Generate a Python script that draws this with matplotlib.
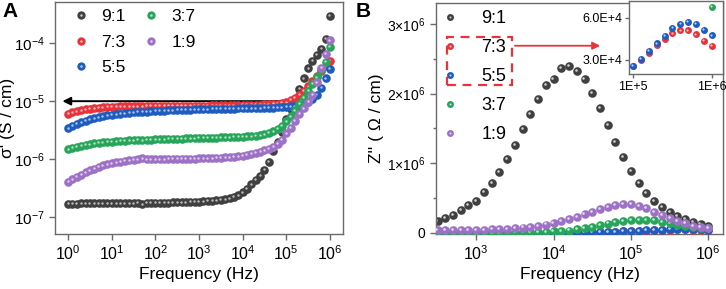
import numpy as np
import matplotlib
matplotlib.use('Agg')
import matplotlib.pyplot as plt
from matplotlib.lines import Line2D
from matplotlib.legend_handler import HandlerTuple
from matplotlib import transforms
from matplotlib.patches import Rectangle
from matplotlib.ticker import FixedLocator, FuncFormatter, NullLocator, MultipleLocator

plt.rcParams['font.family'] = ['Liberation Sans', 'DejaVu Sans']
plt.rcParams['mathtext.fontset'] = 'custom'
plt.rcParams['mathtext.rm'] = 'Liberation Sans'
plt.rcParams['mathtext.it'] = 'Liberation Sans:italic'
plt.rcParams['mathtext.bf'] = 'Liberation Sans:bold'

# ---------------- data ----------------
labels = ['9:1', '7:3', '5:5', '3:7', '1:9']
colors = ['#404040', '#e8333a', '#1f5cc0', '#27a55a', '#9d72c6']

# Panel A: conductivity, frequency exponents 0.0 ... 6.0 (10 points / decade)
freq_a_exp = np.round(np.arange(0, 61) * 0.1, 1)
sigma_91 = [1.72, 1.72, 1.72, 1.73, 1.73, 1.73, 1.73, 1.74, 1.74, 1.74,
            1.74, 1.74, 1.75, 1.75, 1.75, 1.75, 1.76, 1.68, 1.77, 1.77,
            1.78, 1.78, 1.79, 1.79, 1.80, 1.81, 1.81, 1.82, 1.83, 1.84,
            1.86, 1.88, 1.90, 1.93, 1.96, 2.00, 2.05, 2.12, 2.25, 2.40,
            2.70, 3.10, 3.70, 4.40, 5.20, 6.50, 9.00, 14.0, 20.0, 30.0,
            50, 72, 110, 165, 250, 370, 500, 630, 800, 1200, 3000]  # x1e-7
sigma_73 = [6.0, 6.4, 6.75, 7.0, 7.25, 7.45, 7.6, 7.75, 7.85, 7.95,
            8.0, 8.05, 8.1, 8.15, 8.18, 8.2, 8.22, 8.2, 8.25, 8.27,
            8.3, 8.3, 8.32, 8.33, 8.35, 8.35, 8.36, 8.37, 8.38, 8.39,
            8.4, 8.41, 8.42, 8.43, 8.45, 8.46, 8.48, 8.5, 8.53, 8.56,
            8.6, 8.63, 8.66, 8.7, 8.75, 8.8, 8.9, 9.0, 9.1, 9.3,
            9.5, 10.5, 11.5, 13, 15, 18, 22, 27, 33, 41, 50]  # x1e-6
sigma_55 = [3.4, 3.75, 4.05, 4.35, 4.6, 4.85, 5.1, 5.3, 5.5, 5.7,
            5.85, 5.95, 6.1, 6.2, 6.3, 6.45, 6.52, 6.5, 6.62, 6.7,
            6.8, 6.85, 6.9, 6.95, 7.0, 7.05, 7.08, 7.12, 7.15, 7.2,
            7.25, 7.27, 7.3, 7.32, 7.35, 7.4, 7.42, 7.44, 7.46, 7.48,
            7.5, 7.52, 7.54, 7.56, 7.6, 7.65, 7.7, 7.75, 7.82, 7.9,
            8.0, 8.1, 8.2, 8.4, 8.8, 9.5, 10.8, 13, 17, 25, 36]  # x1e-6
sigma_37 = [1.48, 1.56, 1.63, 1.70, 1.76, 1.82, 1.87, 1.91, 1.95, 1.98,
            2.01, 2.04, 2.06, 2.08, 2.10, 2.12, 2.14, 2.13, 2.16, 2.18,
            2.20, 2.21, 2.22, 2.23, 2.24, 2.26, 2.27, 2.28, 2.29, 2.30,
            2.32, 2.33, 2.34, 2.35, 2.36, 2.38, 2.39, 2.40, 2.42, 2.43,
            2.45, 2.47, 2.50, 2.55, 2.60, 2.70, 2.85, 3.05, 3.35, 3.80,
            4.5, 5.5, 7.0, 9.0, 11.5, 15, 20, 26, 34, 48, 86]  # x1e-6
sigma_19 = [0.41, 0.45, 0.495, 0.54, 0.59, 0.64, 0.69, 0.74, 0.78, 0.82,
            0.855, 0.885, 0.91, 0.935, 0.96, 0.98, 1.0, 1.03, 0.99, 0.99,
            0.995, 1.0, 1.0, 1.005, 1.01, 1.01, 1.015, 1.02, 1.02, 1.025,
            1.03, 1.035, 1.04, 1.045, 1.05, 1.06, 1.07, 1.08, 1.10, 1.12,
            1.15, 1.19, 1.23, 1.28, 1.34, 1.42, 1.52, 1.65, 1.85, 2.15,
            2.8, 3.5, 4.6, 6.0, 7.5, 9.8, 13, 21, 38, 66, 113]  # x1e-6

# Panel B: Z'', frequency exponents 2.5 ... 6.0 (10 points / decade)
freq_b_exp = np.round(2.5 + np.arange(0, 36) * 0.1, 1)
z_91 = [0.172, 0.22, 0.263, 0.325, 0.397, 0.464, 0.593, 0.713, 0.88, 1.057,
        1.263, 1.487, 1.707, 1.927, 2.119, 2.214, 2.372, 2.391, 2.324, 2.205,
        2.013, 1.793, 1.545, 1.306, 1.086, 0.89, 0.722, 0.578, 0.459, 0.368,
        0.301, 0.244, 0.195, 0.16, 0.13, 0.105]  # x1e6
z_73 = [0.001, 0.001, 0.001, 0.001, 0.001, 0.001, 0.0011, 0.0012, 0.0014, 0.0016,
        0.0019, 0.0022, 0.0026, 0.0031, 0.0037, 0.0044, 0.0053, 0.0064, 0.0077, 0.0092,
        0.011, 0.013, 0.0155, 0.0185, 0.022,
        0.02605, 0.0300, 0.03506, 0.04037, 0.04499, 0.04891, 0.05099, 0.05099,
        0.04822, 0.04337, 0.04014]  # x1e6
z_55 = [0.001, 0.001, 0.001, 0.001, 0.001, 0.001, 0.0011, 0.0012, 0.0014, 0.0016,
        0.0019, 0.0022, 0.0026, 0.0031, 0.0037, 0.0044, 0.0053, 0.0064, 0.0077, 0.0092,
        0.011, 0.013, 0.0155, 0.0185, 0.022,
        0.02605, 0.0309, 0.03644, 0.04176, 0.04706, 0.05307, 0.0556, 0.05723,
        0.0554, 0.05122, 0.04753]  # x1e6
z_37 = [0.002, 0.002, 0.002, 0.0025, 0.003, 0.003, 0.0035, 0.004, 0.0045, 0.005,
        0.006, 0.007, 0.009, 0.012, 0.016, 0.021, 0.027, 0.035, 0.05, 0.066,
        0.085, 0.108, 0.135, 0.156, 0.172, 0.18, 0.187, 0.187, 0.182, 0.162,
        0.139, 0.12, 0.1, 0.087, 0.076, 0.068]  # x1e6
z_19 = [0.040, 0.040, 0.041, 0.042, 0.043, 0.045, 0.047, 0.050, 0.054, 0.060,
        0.067, 0.077, 0.090, 0.104, 0.120, 0.140, 0.165, 0.195, 0.230, 0.268,
        0.306, 0.349, 0.378, 0.406, 0.420, 0.416, 0.392, 0.354, 0.306, 0.258,
        0.220, 0.177, 0.139, 0.105, 0.088, 0.076]  # x1e6

xt_a = [0, 1, 2, 3, 4, 5, 6]
yt_a = [-7, -6, -5, -4]
xt_b = [3, 4, 5, 6]
yt_b = [0, 1, 2, 3]

# ---------------- figure ----------------
fig = plt.figure(figsize=(7.26, 2.89), dpi=100)
W, H = 726, 289

def px_axes(l, t, r, b):
    return [l / W, 1 - b / H, (r - l) / W, (b - t) / H]

axA = fig.add_axes(px_axes(55, 2, 343, 234))
axB = fig.add_axes(px_axes(436, 3, 723, 234))
axI = fig.add_axes(px_axes(629, 1, 723, 74))

spine_col = '#6a6a6a'

def balls(ax, x, y, color, ms, z, hl=0.3, off=0.6, alpha=0.7):
    ax.plot(x, y, 'o', color=color, ms=ms, mew=0, zorder=z)
    tr = transforms.offset_copy(ax.transData, fig=fig, x=-off, y=off, units='points')
    ax.plot(x, y, 'o', color='white', alpha=alpha, ms=ms * hl, mew=0, zorder=z + 0.01,
            transform=tr)

def style(ax, fs):
    for s in ax.spines.values():
        s.set_color(spine_col)
        s.set_linewidth(1.0)
    ax.tick_params(which='both', direction='out', color=spine_col, labelsize=fs, width=1.0)
    ax.tick_params(which='major', length=4)
    ax.tick_params(which='minor', length=2.5)

# ---- Panel A ----
fa = 10.0 ** freq_a_exp
sA = [np.array(sigma_91) * 1e-7, np.array(sigma_73) * 1e-6, np.array(sigma_55) * 1e-6,
      np.array(sigma_37) * 1e-6, np.array(sigma_19) * 1e-6]
axA.annotate('', xy=(10 ** -0.13, 1e-5), xytext=(10 ** 4.9, 1e-5),
             arrowprops=dict(arrowstyle='-|>', color='black', lw=1.4, mutation_scale=12,
                             shrinkA=0, shrinkB=0), zorder=1)
for i, (s, c) in enumerate(zip(sA, colors)):
    balls(axA, fa, s, c, 6.2, 2 + i, hl=0.28, off=0.4, alpha=0.65)
axA.set_xscale('log')
axA.set_yscale('log')
axA.set_xlim(10 ** -0.3, 10 ** 6.3)
axA.set_ylim(10 ** -7.29, 10 ** -3.29)
axA.xaxis.set_major_locator(FixedLocator([10.0 ** e for e in xt_a]))
axA.yaxis.set_major_locator(FixedLocator([10.0 ** e for e in yt_a]))
axA.xaxis.set_minor_locator(NullLocator())
axA.yaxis.set_minor_locator(NullLocator())
axA.xaxis.set_major_formatter(FuncFormatter(lambda v, p: r'$\mathdefault{10^{%d}}$' % round(np.log10(v))))
axA.yaxis.set_major_formatter(FuncFormatter(lambda v, p: r'$\mathdefault{10^{%d}}$' % round(np.log10(v))))
style(axA, 11.5)
axA.tick_params(axis='y', labelsize=11)
axA.set_xlabel('Frequency (Hz)', fontsize=12.5, labelpad=3)
axA.set_ylabel("σ' (S / cm)", fontsize=12.5, labelpad=-1)

def leg_handles(ms):
    hs = []
    for c in colors:
        h1 = Line2D([], [], ls='', marker='o', color=c, ms=ms, mew=0)
        h2 = Line2D([], [], ls='', marker='o', color='white', alpha=0.7, ms=ms * 0.3, mew=0)
        hs.append((h1, h2))
    return hs

legA = axA.legend(leg_handles(6.0), labels, ncol=2, loc='upper left', frameon=False,
                  fontsize=12.5, handletextpad=0.55, columnspacing=0.9, labelspacing=0.6,
                  handlelength=1.2, borderaxespad=0.1, borderpad=0.3,
                  bbox_to_anchor=(0.03, 1.0),
                  handler_map={tuple: HandlerTuple(ndivide=1)})

# ---- Panel B ----
fb = 10.0 ** freq_b_exp
zB = [z_91, z_73, z_55, z_37, z_19]
for i, (z, c) in enumerate(zip(zB, colors)):
    balls(axB, fb, np.array(z) * 1e6, c, 6.2, 2 + i, hl=0.3, off=0.8, alpha=0.75)
axB.set_xscale('log')
axB.set_xlim(10 ** 2.48, 10 ** 6.19)
axB.set_ylim(-0.015e6, 3.3e6)
axB.xaxis.set_major_locator(FixedLocator([10.0 ** e for e in xt_b]))
axB.xaxis.set_minor_locator(NullLocator())
axB.xaxis.set_major_formatter(FuncFormatter(lambda v, p: r'$\mathdefault{10^{%d}}$' % round(np.log10(v))))
axB.yaxis.set_major_locator(FixedLocator([v * 1e6 for v in yt_b]))
axB.yaxis.set_minor_locator(MultipleLocator(0.5e6))
axB.yaxis.set_major_formatter(FuncFormatter(
    lambda v, p: '0' if abs(v) < 1 else r'$\mathdefault{%d{\times}10^{6}}$' % round(v / 1e6)))
style(axB, 11.5)
axB.tick_params(axis='y', labelsize=10)
axB.set_xlabel('Frequency (Hz)', fontsize=12.5, labelpad=3)
axB.set_ylabel("Z'' ( Ω / cm)", fontsize=12.5, labelpad=2)

legB = axB.legend(leg_handles(5.0), labels, ncol=1, loc='upper left', frameon=False,
                  fontsize=13, handletextpad=1.3, labelspacing=0.66,
                  handlelength=0.8, borderaxespad=0.1, borderpad=0.3,
                  bbox_to_anchor=(0.0, 1.0),
                  handler_map={tuple: HandlerTuple(ndivide=1)})

red = '#e8333a'
axB.add_patch(Rectangle((0.038, 0.645), 0.227, 0.208, transform=axB.transAxes, fill=False,
                        ec=red, lw=1.6, ls=(0, (4, 3)), zorder=10))
axB.annotate('', xy=(0.572, 0.815), xytext=(0.275, 0.815), xycoords='axes fraction',
             textcoords='axes fraction',
             arrowprops=dict(arrowstyle='-|>', color=red, lw=1.3, mutation_scale=11,
                             shrinkA=0, shrinkB=0), zorder=10)

# ---- Inset ----
fi = fb[25:]
for i in [1, 2, 3]:
    balls(axI, fi, np.array(zB[i][25:]) * 1e6, colors[i], 5.0, 2 + i, hl=0.3, off=0.6, alpha=0.75)
axI.set_xscale('log')
axI.set_xlim(10 ** 4.95, 10 ** 6.14)
axI.set_ylim(2.0e4, 7.2e4)
axI.xaxis.set_major_locator(FixedLocator([1e5, 1e6]))
axI.xaxis.set_minor_locator(NullLocator())
axI.yaxis.set_major_locator(FixedLocator([3e4, 6e4]))
axI.yaxis.set_minor_locator(NullLocator())
axI.xaxis.set_major_formatter(FuncFormatter(lambda v, p: '1E+%d' % round(np.log10(v))))
axI.yaxis.set_major_formatter(FuncFormatter(lambda v, p: '%.1fE+4' % (v / 1e4)))
style(axI, 9)
axI.tick_params(which='major', length=3, pad=2)
axI.set_facecolor('white')
axI.set_zorder(5)

fig.text(2 / W, 1 - 2 / H, 'A', fontsize=15, fontweight='bold', va='top', ha='left')
fig.text(356 / W, 1 - 2 / H, 'B', fontsize=15, fontweight='bold', va='top', ha='left')

fig.savefig('out.png', dpi=100)
